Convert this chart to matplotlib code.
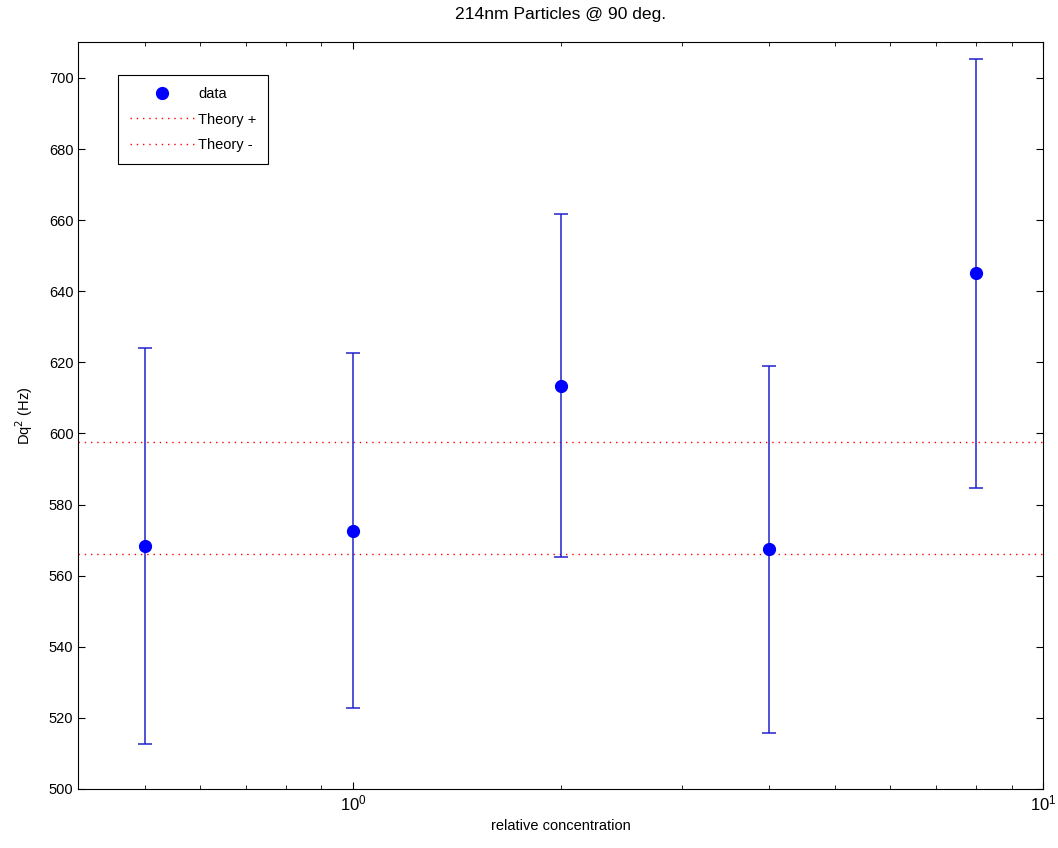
import matplotlib
matplotlib.use("Agg")
import matplotlib.pyplot as plt
from matplotlib.ticker import LogLocator, NullFormatter

plt.rcParams["font.family"] = ["Liberation Sans", "DejaVu Sans"]
plt.rcParams["font.size"] = 10.5

# Messwerte
conc = [0.5, 1, 2, 4, 8]
dq2 = [568.4, 572.7, 613.4, 567.4, 645.0]
err = [55.7, 49.8, 48.2, 51.6, 60.2]

# Theoriegrenzen
theory_plus = 597.5
theory_minus = 566.0

fig = plt.figure(figsize=(10.58, 8.48), dpi=100)
ax = fig.add_axes([0.074, 0.0696, 0.912, 0.8804])

# Fehlerbalken ohne Legendeneintrag, Punkte separat
ax.errorbar(conc, dq2, yerr=err, fmt="none", ecolor="#2222cc",
            elinewidth=1.1, capsize=4.8, capthick=1.1, zorder=3)
ax.plot(conc, dq2, "o", color="blue", markersize=8.5, label="data", zorder=4)
ax.axhline(theory_plus, color="red", linestyle=(0, (1, 3.5)), linewidth=1.0,
           label="Theory +", zorder=2)
ax.axhline(theory_minus, color="red", linestyle=(0, (1, 3.5)), linewidth=1.0,
           label="Theory -", zorder=2)

ax.set_xscale("log")
ax.set_xlim(0.4, 10)
ax.set_ylim(500, 710)
ax.set_yticks(range(500, 701, 20))
ax.xaxis.set_minor_locator(LogLocator(base=10, subs=range(2, 10)))
ax.xaxis.set_minor_formatter(NullFormatter())

ax.tick_params(which="both", direction="in", top=True, right=True)
ax.tick_params(which="major", length=5)
ax.tick_params(which="minor", length=3)
ax.tick_params(axis="x", labelsize=12)

ax.set_xlabel("relative concentration")
ax.set_ylabel("Dq$^2$ (Hz)", labelpad=10)
ax.set_title("214nm Particles @ 90 deg.", pad=17)

leg = ax.legend(loc="upper left", bbox_to_anchor=(0.041, 0.956), fancybox=False,
                framealpha=1, edgecolor="black", borderaxespad=0,
                handlelength=4.4, handletextpad=0.3, labelspacing=0.8,
                borderpad=0.8)
leg.get_frame().set_linewidth(0.8)

fig.savefig("out.png", dpi=100)
